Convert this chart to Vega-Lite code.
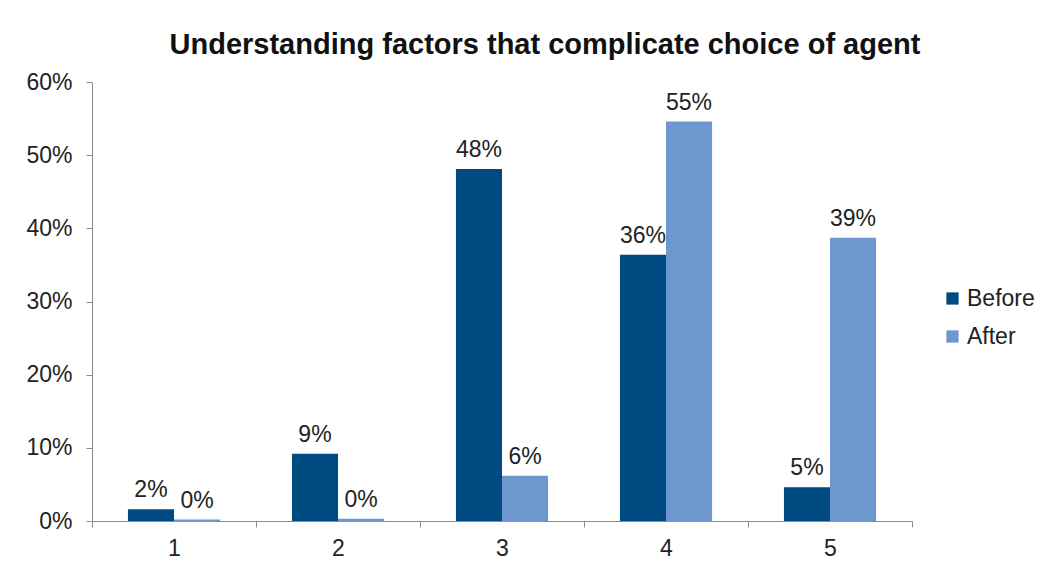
{
  "$schema": "https://vega.github.io/schema/vega-lite/v6.json",
  "autosize": {"type": "none"},
  "width": 820,
  "height": 439,
  "padding": {"left": 92, "top": 82, "right": 136, "bottom": 54},
  "background": "white",
  "title": {
    "text": "Understanding factors that complicate choice of agent",
    "font": "Liberation Sans",
    "fontSize": 29,
    "fontWeight": "bold",
    "color": "#111111",
    "anchor": "middle",
    "dx": 43,
    "offset": 11
  },
  "config": {
    "view": {"stroke": null},
    "font": "Liberation Sans",
    "axis": {"grid": false, "domainColor": "#8c8c8c", "tickColor": "#8c8c8c", "labelFont": "Liberation Sans", "labelFontSize": 23, "labelColor": "#222222", "title": null}
  },
  "data": {
    "values": [
      {"category": "1", "series": "Before", "value": 0.016},
      {"category": "1", "series": "After", "value": 0.002},
      {"category": "2", "series": "Before", "value": 0.092},
      {"category": "2", "series": "After", "value": 0.003},
      {"category": "3", "series": "Before", "value": 0.481},
      {"category": "3", "series": "After", "value": 0.062},
      {"category": "4", "series": "Before", "value": 0.364},
      {"category": "4", "series": "After", "value": 0.546},
      {"category": "5", "series": "Before", "value": 0.046},
      {"category": "5", "series": "After", "value": 0.387}
    ]
  },
  "encoding": {
    "x": {
      "field": "category", "type": "nominal",
      "scale": {"paddingInner": 0, "paddingOuter": 0},
      "axis": {"labelAngle": 0, "tickBand": "extent", "tickSize": 6, "labelPadding": 10}
    },
    "xOffset": {"field": "series", "type": "nominal", "sort": ["Before", "After"], "scale": {"paddingInner": 0, "paddingOuter": 0.78}},
    "y": {
      "field": "value", "type": "quantitative",
      "scale": {"domain": [0, 0.6], "nice": false},
      "axis": {"format": ".0%", "values": [0, 0.1, 0.2, 0.3, 0.4, 0.5, 0.6], "tickSize": 6, "labelPadding": 14}
    }
  },
  "layer": [
    {
      "mark": {"type": "bar"},
      "encoding": {
        "color": {
          "field": "series", "type": "nominal",
          "scale": {"domain": ["Before", "After"], "range": ["#004a82", "#6e97d0"]},
          "legend": {
            "title": null, "orient": "none", "legendX": 849, "legendY": 205,
            "symbolType": "square", "symbolSize": 150, "symbolStrokeWidth": 0,
            "labelFontSize": 23, "labelColor": "#222222", "labelFont": "Liberation Sans",
            "rowPadding": 14, "labelOffset": 3
          }
        }
      }
    },
    {
      "mark": {"type": "text", "baseline": "bottom", "dy": -7, "fontSize": 23, "color": "#222222", "font": "Liberation Sans"},
      "encoding": {
        "text": {"field": "value", "type": "quantitative", "format": ".0%"}
      }
    }
  ]
}
